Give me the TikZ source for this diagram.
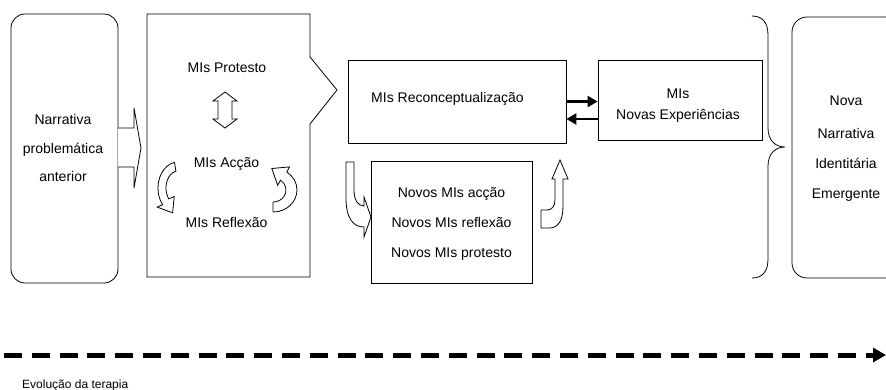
\documentclass[tikz,border=0pt]{standalone}
\usepackage{fontspec}
\setmainfont{Liberation Sans}
\usetikzlibrary{arrows.meta}
\begin{document}
\begin{tikzpicture}[x=1pt,y=-1pt,
  box/.style={draw, line width=0.8pt},
  rbox/.style={box, rounded corners=14pt},
  txt/.style={font=\fontsize{14}{16}\selectfont, inner sep=0pt, text height=10pt, text depth=0pt},
  blk/.style={draw, line width=0.8pt, fill=white, line join=miter},
  thick arrow/.style={line width=2.5pt, -{Triangle[length=10pt,width=11pt]}}]
\useasboundingbox (0,0) rectangle (886,389);

% left box
\node[rbox, minimum width=107pt, minimum height=269pt] (prev) at (64.5,148.5) {};
\node[txt] (prev1) at (63,119) {Narrativa};
\node[txt] (prev2) at (63,148) {problemática};
\node[txt] (prev3) at (63,176) {anterior};

% block arrow into middle box
\draw[blk] (118,128) -- (134,128) -- (134,108) -- (141,148) -- (134,188) -- (134,167) -- (118,167);

% middle callout box
\draw[box, line join=miter] (147,14) -- (310,14) -- (310,57) -- (337,90) -- (310,124) -- (310,277) -- (147,277) -- cycle;
\node[txt] (prot) at (227,67) {MIs Protesto};
\node[txt] (acc) at (226.5,162) {MIs Acção};
\node[txt] (refl) at (226.5,222) {MIs Reflexão};

% double vertical block arrow
\draw[blk] (225,92) -- (237,101) -- (232,101) -- (232,119) -- (237,119) -- (225,128)
  -- (213,119) -- (218,119) -- (218,101) -- (213,101) -- cycle;

% left curved arrow
\draw[blk] (174.5,162.4) arc[start angle=260, end angle=140, x radius=20, y radius=26]
  -- (157.2,207.1) -- (172.6,212.8) -- (174.2,196.5) -- (168.8,198.9)
  arc[start angle=140, end angle=260, x radius=12, y radius=17] -- cycle;

% right curved arrow
\draw[blk] (273,212) arc[start angle=90, end angle=-55, x radius=24, y radius=22]
  -- (289.5,166.9) -- (271.8,168.5) -- (277.7,185.3) -- (280.5,180.2)
  arc[start angle=-55, end angle=90, x radius=13, y radius=12] -- cycle;

% reconceptualization box
\node[box, minimum width=218pt, minimum height=83pt] (reco) at (457,101.5) {};
\node[txt] (recot) at (447.5,97) {MIs Reconceptualização};

% new experiences box
\node[box, minimum width=164pt, minimum height=80pt] (novas) at (680,100) {};
\node[txt] (novas1) at (678,93) {MIs};
\node[txt] (novas2) at (678,114) {Novas Experiências};

% arrows between
\coordinate (a1) at (reco.east);
\coordinate (a2) at (a1 -| novas.west);
\draw[thick arrow] (a1) -- (a2);
\coordinate (b1) at ([yshift=-19pt]novas.west);
\coordinate (b2) at (b1 -| reco.east);
\draw[thick arrow] (b1) -- (b2);

% new IMs box
\node[box, minimum width=161pt, minimum height=122pt] (novos) at (451.5,222) {};
\node[txt] (novos1) at (451.5,192) {Novos MIs acção};
\node[txt] (novos2) at (451.5,222) {Novos MIs reflexão};
\node[txt] (novos3) at (451.5,252) {Novos MIs protesto};

% bent arrow down-right
\draw[blk] (346,162) -- (346,198) .. controls (346,218) and (353,227) .. (364,227)
  -- (364,237) -- (371,217) -- (364,197) -- (364,206)
  .. controls (358,206) and (354,200) .. (354,190) -- (354,162) -- cycle;

% bent arrow right-up
\draw[blk] (541,228) -- (549,228) .. controls (558,228) and (563,221) .. (563,206)
  -- (563,179) -- (568,179) -- (560,160) -- (552,179) -- (555,179) -- (555,200)
  .. controls (555,206) and (552,210) .. (547,210) -- (541,210) -- cycle;

% brace
\draw[box] (752,16) .. controls (762,16) and (768,22) .. (768,35) -- (768,128)
  .. controls (768,140) and (775,147) .. (785,147)
  .. controls (775,147) and (768,154) .. (768,166) -- (768,259)
  .. controls (768,272) and (762,278) .. (752,278);

% right box
\node[rbox, rounded corners=15pt, minimum width=108pt, minimum height=261pt] (emerg) at (846,147.5) {};
\node[txt] (em1) at (846,100) {Nova};
\node[txt] (em2) at (846,133) {Narrativa};
\node[txt] (em3) at (846,163) {Identitária};
\node[txt] (em4) at (846,193) {Emergente};

% time line
\coordinate (t0) at (4,355);
\coordinate (t1) at (886,355);
\draw[line width=5pt, dash pattern=on 18pt off 9.8pt, -{Triangle[length=13pt,width=14pt]}] (t0) -- (t1);
\node[font=\fontsize{12}{14}\selectfont, anchor=base west, inner sep=0pt] (evo) at (22,388) {Evolução da terapia};
\end{tikzpicture}
\end{document}
